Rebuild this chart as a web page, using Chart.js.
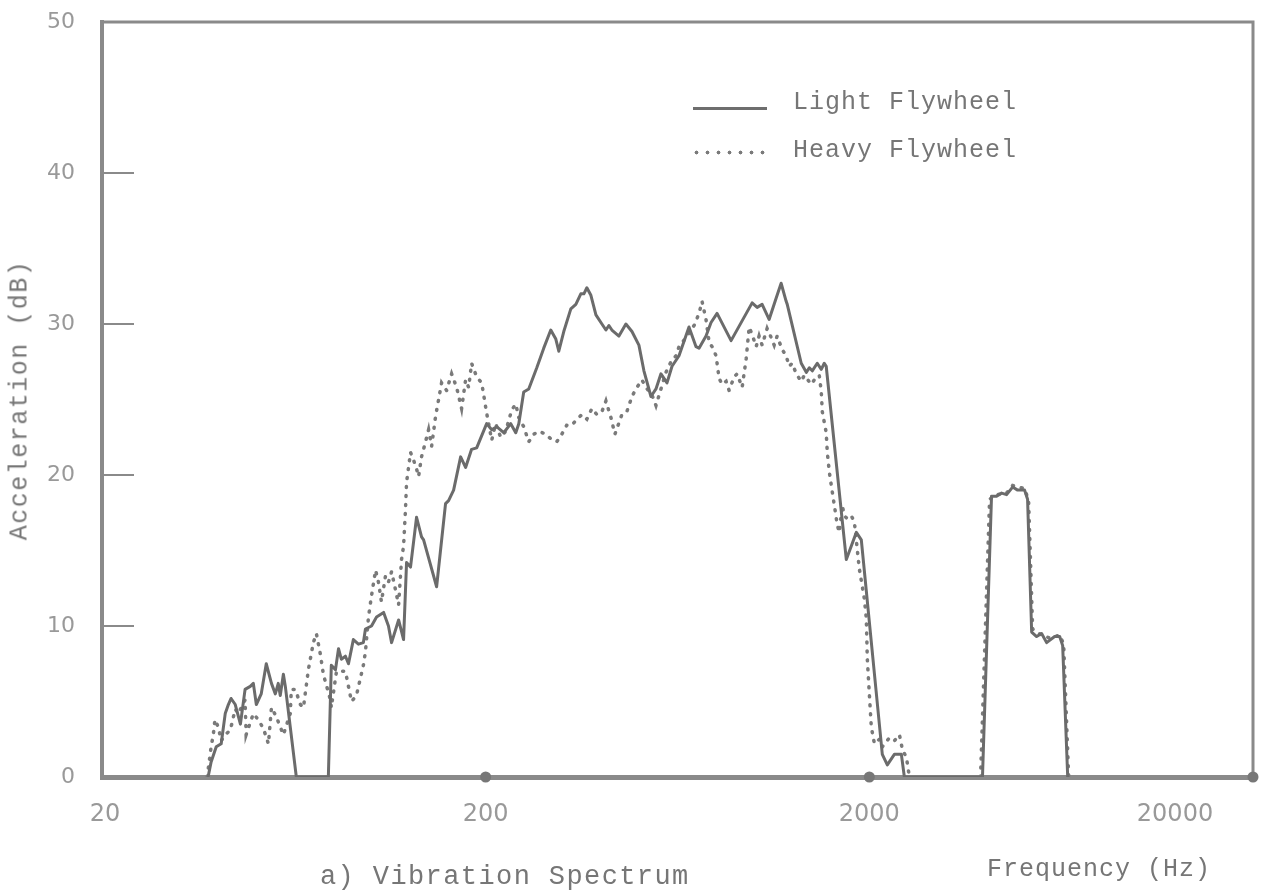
<!DOCTYPE html>
<html>
<head>
<meta charset="utf-8">
<script src="https://cdn.jsdelivr.net/npm/chart.js@4.4.1/dist/chart.umd.min.js"></script>
<style>
  html, body { margin: 0; padding: 0; background: #fff; }
  #wrap { position: relative; width: 1269px; height: 890px; overflow: hidden; }
  canvas { display: block; }
  .txt { position: absolute; font-family: "Liberation Mono", monospace; color: #767676; white-space: nowrap; line-height: 1; }
</style>
</head>
<body>
<div id="wrap">
  <canvas id="chart" width="1269" height="890"></canvas>
  <div class="txt" id="ytitle" style="left:20px;top:400px;font-size:25px;letter-spacing:1.5px;transform:translate(-50%,-50%) rotate(-90deg);">Acceleration (dB)</div>
  <div style="position:absolute;left:693px;top:107px;width:74px;height:3px;background:#6e6e6e;"></div>
  <div class="txt" style="left:793px;top:90px;font-size:25px;letter-spacing:1px;">Light Flywheel</div>
  <div style="position:absolute;left:691px;top:150px;width:80px;height:5px;background-image:radial-gradient(circle,#7a7a7a 1.7px,transparent 2.2px);background-size:11px 5px;"></div>
  <div class="txt" style="left:793px;top:138px;font-size:25px;letter-spacing:1px;">Heavy Flywheel</div>
  <div class="txt" style="left:320px;top:864px;font-size:27px;letter-spacing:1.4px;">a) Vibration Spectrum</div>
  <div class="txt" style="left:987px;top:857px;font-size:25px;letter-spacing:1px;">Frequency (Hz)</div>
</div>
<script>
// Light Flywheel (solid) - frequency in Hz, acceleration in dB
const lightFreq = [37.8, 38.5, 39.7, 40.9, 41.9, 42.7, 43.4, 44.5, 45.9, 47.2, 48.7, 49.6, 50.5, 52.0, 53.6, 55.3, 56.6, 57.6, 58.3, 59.4, 60.1, 64.2,
  77.8, 79.2, 81.2, 82.7, 84.1, 86.2, 87.8, 90.4, 93.2, 96.0, 97.2, 100.8, 103.9, 108.4, 111.6, 113.7, 118.6, 122.2, 124.4, 127.4, 132.1, 136.1, 137.8,
  149.0, 157.2, 160.1, 165.0, 172.1, 177.3, 183.8, 189.5, 201.2, 207.4, 213.6, 222.9, 232.5, 239.6, 244.0, 251.3, 259.0, 271.8, 283.4, 295.6,
  304.7, 310.2, 319.6, 333.4, 343.6, 354.0, 360.6, 367.1, 376.1, 387.6, 401.8, 411.6, 419.0, 426.6, 445.0, 464.0, 481.2, 501.7, 517.0, 539.3,
  555.8, 572.7, 593.8, 612.0, 626.9, 638.2, 677.6, 706.8, 719.7, 750.5, 773.5, 802.0, 872.4, 989.8, 1020, 1051, 1096, 1143, 1178, 1214, 1222,
  1329, 1370, 1395, 1420, 1463, 1499, 1526, 1544, 1742, 1795, 1850, 1906, 2162, 2228, 2324, 2424, 2468,
  3944, 4164, 4292, 4424, 4558, 4726, 4870, 5078, 5170, 5298, 5458, 5624, 5796, 6082, 6268, 6382, 6578];
const lightDb = [0, 1.0, 2.0, 2.2, 4.2, 4.8, 5.2, 4.8, 3.5, 5.8, 6.0, 6.2, 4.8, 5.5, 7.5, 6.2, 5.5, 6.2, 5.4, 6.8, 6.0, 0,
  0, 7.4, 7.1, 8.5, 7.8, 8.0, 7.5, 9.1, 8.8, 8.9, 9.8, 10.0, 10.6, 10.9, 10.0, 8.9, 10.4, 9.1, 14.2, 13.9, 17.2, 15.9, 15.7,
  12.6, 18.1, 18.3, 19.0, 21.2, 20.5, 21.7, 21.8, 23.4, 23.0, 23.2, 22.8, 23.4, 22.8, 23.4, 25.5, 25.7, 27.1, 28.4, 29.6,
  29.0, 28.2, 29.5, 31.0, 31.3, 32.0, 32.0, 32.4, 31.9, 30.6, 30.0, 29.6, 29.9, 29.6, 29.2, 30.0, 29.5, 28.6, 26.9, 25.2,
  25.7, 26.7, 26.1, 27.2, 27.6, 27.9, 29.8, 28.5, 28.4, 29.2, 30.1, 30.7, 28.9, 31.4, 31.1, 31.3, 30.3, 31.7, 32.7, 31.5, 31.3,
  27.4, 26.8, 27.1, 26.9, 27.4, 27.0, 27.4, 27.2, 14.4, 15.3, 16.2, 15.7, 1.5, 0.8, 1.5, 1.5, 0,
  0, 18.6, 18.6, 18.8, 18.7, 19.2, 19.0, 19.0, 18.4, 9.6, 9.3, 9.5, 8.9, 9.3, 9.3, 8.7, 0];

// Heavy Flywheel (dotted)
const heavyFreq = [37.6, 38.5, 39.0, 39.4, 40.2, 40.9, 41.9, 43.2, 44.5, 45.3, 47.2, 47.5, 49.6, 51.1, 52.7, 54.3, 55.3, 56.9, 59.4, 61.9, 62.3,
  63.8, 65.8, 67.0, 69.0, 71.1, 72.4, 74.2, 75.5, 78.8, 79.2, 81.7, 86.2, 89.4, 92.1, 96.0, 97.2, 99.0, 100.8, 103.3, 105.1, 107.0, 109.6,
  111.6, 113.7, 116.4, 118.6, 120.7, 122.2, 123.6, 124.4, 127.4, 129.7, 132.1, 133.7, 136.1, 139.4, 142.0, 144.6, 148.1, 150.8, 153.5, 158.2,
  163.0, 168.0, 173.1, 177.3, 180.6, 183.8, 189.5, 195.3, 201.2, 207.4, 212.4, 218.8, 225.6, 233.8, 239.6, 244.0, 251.3, 259.0, 267.0, 275.0,
  286.8, 295.6, 306.4, 315.8, 325.4, 335.4, 345.8, 356.2, 367.1, 378.4, 389.8, 401.8, 411.6, 424.2, 434.4, 453.0, 466.8, 481.2, 492.8, 511.0,
  523.4, 542.6, 555.8, 572.7, 590.2, 608.2, 626.9, 638.2, 665.6, 698.6, 719.7, 732.8, 750.5, 764.4, 778.2, 797.2, 811.8, 826.6, 846.6, 862.0,
  888.4, 904.6, 932.2, 955.0, 972.4, 989.8, 1014, 1032, 1051, 1083, 1110, 1130, 1150, 1186, 1214, 1236, 1259, 1290, 1329, 1353, 1412, 1454,
  1481, 1499, 1508, 1544, 1554, 1573, 1592, 1621, 1650, 1670, 1700, 1721, 1752, 1795, 1828, 1883, 1941, 1964, 1976, 2000, 2024, 2062, 2124,
  2162, 2256, 2324, 2396, 2440, 2498, 2544, 3200,
  3898, 4116, 4292, 4558, 4726, 5078, 5202, 5330, 5624, 5902, 6268, 6420, 6616];
const heavyDb = [0, 2.0, 2.8, 3.8, 3.3, 2.4, 2.8, 3.1, 4.5, 4.2, 5.1, 2.8, 4.2, 3.8, 3.2, 2.2, 4.6, 4.0, 2.8, 4.2, 5.8,
  5.8, 4.8, 4.6, 7.1, 8.9, 9.5, 8.1, 6.8, 5.1, 4.6, 7.0, 7.0, 5.0, 5.4, 7.4, 8.3, 10.6, 12.0, 13.7, 12.9, 11.6, 13.3,
  12.9, 13.6, 12.4, 11.4, 14.4, 15.3, 17.7, 19.5, 21.5, 21.0, 20.4, 19.9, 21.2, 22.2, 23.0, 21.9, 23.9, 25.0, 26.1, 25.6,
  26.7, 25.8, 24.4, 26.3, 25.8, 27.4, 26.5, 26.1, 24.1, 22.3, 23.4, 22.5, 22.9, 24.3, 24.7, 23.8, 23.2, 22.2, 22.7, 22.9,
  22.7, 22.4, 22.2, 22.7, 23.3, 23.3, 23.7, 24.0, 23.7, 24.4, 24.0, 24.2, 24.9, 23.8, 22.7, 24.0, 24.2, 25.2, 25.7, 26.3,
  25.8, 25.3, 24.6, 25.7, 26.8, 27.5, 27.9, 28.5, 29.1, 29.9, 30.7, 31.5, 30.3, 28.8, 28.5, 27.9, 26.4, 26.0, 26.2, 25.6,
  26.5, 26.7, 25.8, 27.7, 29.8, 29.3, 28.5, 29.2, 28.6, 29.7, 29.1, 28.6, 29.2, 28.3, 27.9, 27.2, 27.4, 26.7, 26.2, 26.6, 26.0, 26.5,
  26.6, 25.5, 24.2, 22.8, 21.5, 20.2, 19.3, 18.0, 16.7, 16.2, 18.0, 17.3, 17.1, 17.3, 16.9, 13.8, 11.8, 10.5, 7.8, 5.5, 3.3, 2.2, 2.5,
  2.0, 2.6, 2.4, 2.8, 1.8, 1.3, 0, null,
  0, 18.4, 18.7, 18.8, 19.3, 19.1, 18.3, 9.8, 9.4, 9.2, 9.4, 8.8, 0];

const yTicks = [0, 10, 20, 30, 40, 50];
const xTickValues = [20, 200, 2000, 20000];
const xTickLabels = ['20', '200', '2000', '20000'];
const axisDots = [200, 2000, 20000];

const lightData = lightFreq.map((f, i) => ({ x: f, y: lightDb[i] }));
const heavyData = heavyFreq.map((f, i) => ({ x: f, y: heavyDb[i] }));

const inkColor = '#8a8a8a';
const labelColor = '#999';

// frame, inner ticks, axis dots, x labels
const paperPlugin = {
  id: 'paper',
  afterDraw(chart) {
    const { ctx, chartArea: a, scales: { x, y } } = chart;
    ctx.save();
    ctx.strokeStyle = inkColor;
    ctx.lineWidth = 3;
    ctx.beginPath();
    ctx.moveTo(a.left, a.top);
    ctx.lineTo(a.right, a.top);
    ctx.lineTo(a.right, a.bottom);
    ctx.stroke();

    ctx.lineWidth = 2;
    yTicks.slice(1, -1).forEach(v => {
      const py = y.getPixelForValue(v);
      ctx.beginPath();
      ctx.moveTo(a.left, py);
      ctx.lineTo(a.left + 32, py);
      ctx.stroke();
    });

    ctx.fillStyle = '#777';
    axisDots.forEach(v => {
      ctx.beginPath();
      ctx.arc(x.getPixelForValue(v), a.bottom, 5.5, 0, Math.PI * 2);
      ctx.fill();
    });

    ctx.fillStyle = labelColor;
    ctx.font = '24px "DejaVu Sans"';
    ctx.textAlign = 'center';
    ctx.textBaseline = 'middle';
    xTickValues.forEach((v, i) => {
      let px = x.getPixelForValue(v);
      if (i === xTickValues.length - 1) px -= 78; // last label sits left of its tick in the original
      if (i === 0) px += 3;
      ctx.fillText(xTickLabels[i], px, a.bottom + 38);
    });
    ctx.restore();
  }
};

new Chart(document.getElementById('chart'), {
  type: 'line',
  data: {
    datasets: [
      {
        label: 'Light Flywheel',
        data: lightData,
        borderColor: '#6b6b6b',
        borderWidth: 3,
        borderJoinStyle: 'round',
        pointRadius: 0,
        tension: 0,
        spanGaps: false
      },
      {
        label: 'Heavy Flywheel',
        data: heavyData,
        borderColor: '#7a7a7a',
        borderWidth: 3.5,
        borderDash: [1, 8],
        borderCapStyle: 'round',
        pointRadius: 0,
        tension: 0,
        spanGaps: false
      }
    ]
  },
  options: {
    responsive: false,
    animation: false,
    devicePixelRatio: 1,
    layout: { padding: { top: 22, right: 16, left: 0, bottom: 0 } },
    plugins: {
      legend: { display: false },
      tooltip: { enabled: false }
    },
    scales: {
      x: {
        type: 'logarithmic',
        min: 20,
        max: 20000,
        grid: { display: false, drawTicks: false },
        border: { display: true, color: inkColor, width: 5 },
        ticks: { display: false },
        afterFit: s => { s.height = 113; }
      },
      y: {
        min: 0,
        max: 50,
        grid: { display: false, drawTicks: false },
        border: { display: true, color: inkColor, width: 4 },
        afterBuildTicks: s => { s.ticks = yTicks.map(v => ({ value: v })); },
        ticks: {
          padding: 27,
          color: labelColor,
          font: { family: 'DejaVu Sans', size: 22 },
          callback: v => String(v)
        },
        afterFit: s => {
          s.width = 102;
          s.paddingTop = 0;
          s.paddingBottom = 0;
        }
      }
    }
  },
  plugins: [paperPlugin]
});
</script>
</body>
</html>
